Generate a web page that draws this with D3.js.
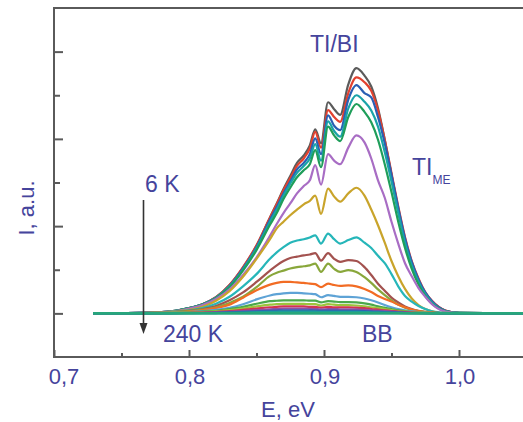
<!DOCTYPE html>
<html><head><meta charset="utf-8">
<script src="https://cdn.jsdelivr.net/npm/d3@7"></script>
<style>
html,body{margin:0;padding:0;background:#fff;}
svg{display:block;font-family:"Liberation Sans",Arial,sans-serif;}
</style></head>
<body>
<svg id="chart" width="523" height="422"></svg>
<script>
// Shared energy grid (eV)
const energy = [0.729, 0.75, 0.77, 0.78, 0.79, 0.80, 0.81, 0.82, 0.83, 0.84, 0.85, 0.86, 0.865, 0.87, 0.875, 0.88, 0.885, 0.8895, 0.8935, 0.8978, 0.903, 0.9075, 0.912, 0.918, 0.924, 0.93, 0.935, 0.94, 0.945, 0.95, 0.955, 0.96, 0.965, 0.97, 0.975, 0.98, 0.985, 0.99, 1.00, 1.05];

// Intensity series, 6 K (top) to 240 K (bottom)
const sGray   = [0, 0.005, 0.015, 0.03, 0.06, 0.12, 0.21, 0.37, 0.65, 1.05, 1.55, 2.2, 2.52, 2.85, 3.15, 3.45, 3.62, 3.85, 4.22, 3.9, 4.84, 4.68, 4.55, 5.25, 5.62, 5.45, 5.2, 4.7, 3.98, 3.18, 2.38, 1.68, 1.15, 0.75, 0.46, 0.27, 0.14, 0.06, 0.01, 0];
const sRed    = [0, 0.005, 0.015, 0.03, 0.06, 0.12, 0.21, 0.37, 0.65, 1.06, 1.56, 2.2, 2.5, 2.82, 3.1, 3.38, 3.55, 3.78, 4.16, 3.8, 4.66, 4.5, 4.39, 5.05, 5.41, 5.3, 5.1, 4.65, 3.98, 3.22, 2.45, 1.75, 1.2, 0.8, 0.49, 0.29, 0.15, 0.065, 0.01, 0];
const sBlue   = [0, 0.005, 0.015, 0.03, 0.06, 0.12, 0.21, 0.36, 0.63, 1.03, 1.52, 2.15, 2.44, 2.75, 3.02, 3.3, 3.45, 3.65, 4.01, 3.65, 4.54, 4.3, 4.2, 4.9, 5.23, 5.05, 4.95, 4.5, 3.9, 3.18, 2.42, 1.72, 1.18, 0.78, 0.48, 0.28, 0.14, 0.06, 0.01, 0];
const sTeal   = [0, 0.005, 0.015, 0.03, 0.06, 0.12, 0.2, 0.36, 0.62, 1.01, 1.5, 2.1, 2.38, 2.7, 2.97, 3.22, 3.38, 3.55, 3.88, 3.5, 4.4, 4.18, 4.05, 4.7, 5.0, 4.85, 4.65, 4.28, 3.7, 3.02, 2.3, 1.62, 1.1, 0.72, 0.44, 0.25, 0.12, 0.05, 0.01, 0];
const sGreen  = [0, 0.005, 0.015, 0.03, 0.06, 0.12, 0.2, 0.35, 0.6, 0.98, 1.45, 2.03, 2.3, 2.62, 2.88, 3.12, 3.28, 3.42, 3.74, 3.35, 4.28, 4.08, 3.95, 4.5, 4.8, 4.62, 4.38, 3.98, 3.42, 2.78, 2.1, 1.5, 1.02, 0.66, 0.4, 0.22, 0.11, 0.045, 0.01, 0];
const sPurple = [0, 0.005, 0.015, 0.03, 0.055, 0.11, 0.19, 0.33, 0.55, 0.88, 1.28, 1.78, 2.05, 2.3, 2.52, 2.75, 2.92, 3.05, 3.4, 2.95, 3.65, 3.5, 3.42, 3.8, 4.08, 3.92, 3.55, 3.05, 2.65, 2.1, 1.6, 1.15, 0.85, 0.58, 0.38, 0.21, 0.1, 0.04, 0.005, 0];
const sGold   = [0, 0.004, 0.012, 0.025, 0.045, 0.08, 0.15, 0.29, 0.51, 0.84, 1.25, 1.7, 1.95, 2.1, 2.25, 2.38, 2.5, 2.58, 2.7, 2.28, 2.86, 2.68, 2.56, 2.75, 2.88, 2.7, 2.38, 2.02, 1.62, 1.2, 0.85, 0.56, 0.34, 0.19, 0.1, 0.05, 0.02, 0.01, 0, 0];
const sCyan   = [0, 0.004, 0.01, 0.02, 0.04, 0.07, 0.12, 0.22, 0.38, 0.62, 0.9, 1.25, 1.4, 1.52, 1.62, 1.67, 1.7, 1.74, 1.79, 1.6, 1.83, 1.7, 1.6, 1.68, 1.74, 1.62, 1.5, 1.32, 1.15, 0.9, 0.62, 0.4, 0.27, 0.17, 0.1, 0.05, 0.025, 0.01, 0, 0];
const sBrown  = [0, 0.003, 0.01, 0.02, 0.035, 0.06, 0.1, 0.17, 0.3, 0.48, 0.72, 0.98, 1.1, 1.2, 1.27, 1.3, 1.33, 1.35, 1.38, 1.21, 1.38, 1.25, 1.18, 1.22, 1.2, 1.06, 0.88, 0.68, 0.52, 0.36, 0.25, 0.16, 0.1, 0.06, 0.035, 0.02, 0.01, 0.004, 0, 0];
const sOlive  = [0, 0.003, 0.008, 0.016, 0.03, 0.05, 0.085, 0.14, 0.24, 0.38, 0.6, 0.86, 0.93, 0.98, 1.03, 1.06, 1.08, 1.1, 1.14, 0.95, 1.14, 1.02, 0.95, 0.99, 0.95, 0.83, 0.7, 0.55, 0.42, 0.3, 0.2, 0.13, 0.08, 0.05, 0.03, 0.015, 0.007, 0.003, 0, 0];
const sOrange = [0, 0.002, 0.006, 0.012, 0.022, 0.04, 0.07, 0.12, 0.2, 0.36, 0.53, 0.66, 0.7, 0.72, 0.72, 0.71, 0.7, 0.68, 0.67, 0.6, 0.68, 0.65, 0.63, 0.64, 0.62, 0.56, 0.49, 0.4, 0.33, 0.27, 0.2, 0.14, 0.09, 0.055, 0.03, 0.015, 0.007, 0.003, 0, 0];
const sLtBlue = [0, 0.002, 0.005, 0.01, 0.018, 0.03, 0.05, 0.08, 0.13, 0.21, 0.32, 0.41, 0.44, 0.46, 0.47, 0.47, 0.46, 0.45, 0.44, 0.37, 0.42, 0.4, 0.38, 0.38, 0.37, 0.34, 0.3, 0.25, 0.19, 0.14, 0.1, 0.07, 0.045, 0.028, 0.016, 0.009, 0.004, 0.002, 0, 0];
const sGreen2 = [0, 0.002, 0.004, 0.008, 0.014, 0.024, 0.04, 0.06, 0.1, 0.15, 0.22, 0.28, 0.29, 0.3, 0.3, 0.3, 0.3, 0.29, 0.29, 0.25, 0.28, 0.27, 0.26, 0.26, 0.25, 0.23, 0.2, 0.16, 0.13, 0.1, 0.07, 0.05, 0.03, 0.02, 0.012, 0.007, 0.003, 0.001, 0, 0];
const sYGreen = [0, 0.001, 0.003, 0.006, 0.011, 0.018, 0.03, 0.045, 0.075, 0.11, 0.16, 0.2, 0.21, 0.22, 0.22, 0.22, 0.22, 0.21, 0.21, 0.18, 0.21, 0.2, 0.19, 0.19, 0.18, 0.16, 0.14, 0.12, 0.1, 0.075, 0.055, 0.038, 0.025, 0.016, 0.01, 0.005, 0.002, 0.001, 0, 0];
const sCrimson= [0, 0.001, 0.002, 0.004, 0.008, 0.013, 0.02, 0.032, 0.05, 0.08, 0.11, 0.14, 0.15, 0.16, 0.16, 0.16, 0.16, 0.15, 0.15, 0.13, 0.15, 0.14, 0.14, 0.14, 0.13, 0.12, 0.1, 0.085, 0.07, 0.055, 0.04, 0.028, 0.018, 0.011, 0.007, 0.004, 0.002, 0.001, 0, 0];
const sViolet = [0, 0.001, 0.002, 0.003, 0.005, 0.009, 0.014, 0.022, 0.035, 0.055, 0.075, 0.095, 0.1, 0.11, 0.11, 0.11, 0.11, 0.105, 0.1, 0.09, 0.1, 0.1, 0.095, 0.095, 0.09, 0.08, 0.07, 0.06, 0.05, 0.038, 0.028, 0.02, 0.013, 0.008, 0.005, 0.003, 0.001, 0, 0, 0];
const sNavy   = [0, 0, 0.001, 0.002, 0.003, 0.006, 0.009, 0.014, 0.022, 0.034, 0.048, 0.06, 0.065, 0.07, 0.07, 0.07, 0.07, 0.068, 0.066, 0.06, 0.065, 0.063, 0.06, 0.06, 0.058, 0.052, 0.045, 0.038, 0.03, 0.024, 0.018, 0.012, 0.008, 0.005, 0.003, 0.002, 0.001, 0, 0, 0];
const sTeal2  = [0, 0, 0.001, 0.001, 0.002, 0.003, 0.005, 0.008, 0.012, 0.019, 0.027, 0.034, 0.037, 0.04, 0.04, 0.04, 0.04, 0.039, 0.038, 0.035, 0.037, 0.036, 0.035, 0.035, 0.033, 0.03, 0.026, 0.022, 0.018, 0.014, 0.01, 0.007, 0.005, 0.003, 0.002, 0.001, 0, 0, 0, 0];
const sBase   = [0, 0, 0, 0, 0, 0, 0, 0, 0, 0, 0, 0, 0, 0, 0, 0, 0, 0, 0, 0, 0, 0, 0, 0, 0, 0, 0, 0, 0, 0, 0, 0, 0, 0, 0, 0, 0, 0, 0, 0];

const seriesList = [sGray, sRed, sBlue, sTeal, sGreen, sPurple, sGold, sCyan, sBrown, sOlive, sOrange, sLtBlue, sGreen2, sYGreen, sCrimson, sViolet, sNavy, sTeal2, sBase];
const seriesColors = ["#5b5b5b", "#e2412f", "#2a5fb3", "#1aa3a8", "#1f9e5a", "#a86dc4", "#c9a42b", "#26b6b9", "#a3524f", "#89a73b", "#f26c24", "#5ea3d6", "#4aa84a", "#9cc43c", "#d2354f", "#904fa2", "#2f5fb5", "#1c9c9a", "#27a67c"];

// Axis ticks
const xMajorTicks = [0.7, 0.8, 0.9, 1.0];
const xMinorTicks = [0.75, 0.85, 0.95];
const xTickLabels = ["0,7", "0,8", "0,9", "1,0"];
const yMajorTicks = [0, 2, 4, 6];
const yMinorTicks = [1, 3, 5];

const textColor = "#45449c";
const axisColor = "#5a5a5a";

const svg = d3.select("#chart");
const x = d3.scaleLinear().domain([0.7, 1.05]).range([54, 526.5]);
const y = d3.scaleLinear().domain([-1, 7]).range([357, 8]);

// curves
const line = d3.line()
  .x((d, i) => x(energy[i]))
  .y(d => y(d))
  .curve(d3.curveMonotoneX);

svg.append("g").selectAll("path")
  .data(seriesList)
  .join("path")
  .attr("d", d => line(d))
  .attr("fill", "none")
  .attr("stroke", (d, i) => seriesColors[i])
  .attr("stroke-width", (d, i) => i === seriesList.length - 1 ? 2.6 : 2.2)
  .attr("stroke-linejoin", "round");

// axes (ticks inward)
const gx = svg.append("g").attr("transform", `translate(0,${y(-1)})`);
gx.call(d3.axisTop(x).tickValues(xMajorTicks).tickSize(7).tickFormat(""));
gx.append("g").call(d3.axisTop(x).tickValues(xMinorTicks).tickSize(4).tickFormat(""));
gx.selectAll(".domain").remove();
gx.selectAll("line").attr("stroke", axisColor).attr("stroke-width", 2);

svg.append("g").selectAll("text")
  .data(xMajorTicks)
  .join("text")
  .attr("x", (d, i) => i === 0 ? x(d) + 10 : x(d) + 1)
  .attr("y", 384)
  .attr("text-anchor", "middle")
  .attr("font-size", 22)
  .attr("fill", textColor)
  .text((d, i) => xTickLabels[i]);

const gy = svg.append("g").attr("transform", `translate(${x(0.7)},0)`);
gy.call(d3.axisRight(y).tickValues(yMajorTicks).tickSize(9).tickFormat(""));
gy.append("g").call(d3.axisRight(y).tickValues(yMinorTicks).tickSize(6).tickFormat(""));
gy.selectAll(".domain").remove();
gy.selectAll("line").attr("stroke", axisColor).attr("stroke-width", 2);

// frame: left, bottom, top
svg.append("path")
  .attr("d", `M${x(1.05) + 5},${y(7)}H${x(0.7)}V${y(-1)}H${x(1.05) + 5}`)
  .attr("fill", "none")
  .attr("stroke", axisColor)
  .attr("stroke-width", 2);

// axis titles
svg.append("text")
  .attr("x", 288).attr("y", 417)
  .attr("text-anchor", "middle")
  .attr("font-size", 22)
  .attr("fill", textColor)
  .text("E, eV");

svg.append("text")
  .attr("transform", "translate(34,208) rotate(-90)")
  .attr("text-anchor", "middle")
  .attr("font-size", 22)
  .attr("fill", textColor)
  .text("I, a.u.");

// annotations
const ann = svg.append("g").attr("fill", textColor).attr("font-size", 23);
ann.append("text").attr("x", 145).attr("y", 192).text("6 K");
ann.append("text").attr("x", 163).attr("y", 342).text("240 K");
ann.append("text").attr("x", 362).attr("y", 342).text("BB");
ann.append("text").attr("x", 310).attr("y", 52).text("TI/BI");
const tme = ann.append("text").attr("x", 412).attr("y", 175);
tme.append("tspan").text("TI");
tme.append("tspan").attr("font-size", 12).attr("dy", 9).text("ME");

// arrow 6 K -> 240 K
svg.append("line")
  .attr("x1", 143.5).attr("y1", 200)
  .attr("x2", 143.5).attr("y2", 325)
  .attr("stroke", "#333").attr("stroke-width", 1.6);
svg.append("path")
  .attr("d", "M139.5,323 L147.5,323 L143.5,334 Z")
  .attr("fill", "#333");
</script>
</body></html>
